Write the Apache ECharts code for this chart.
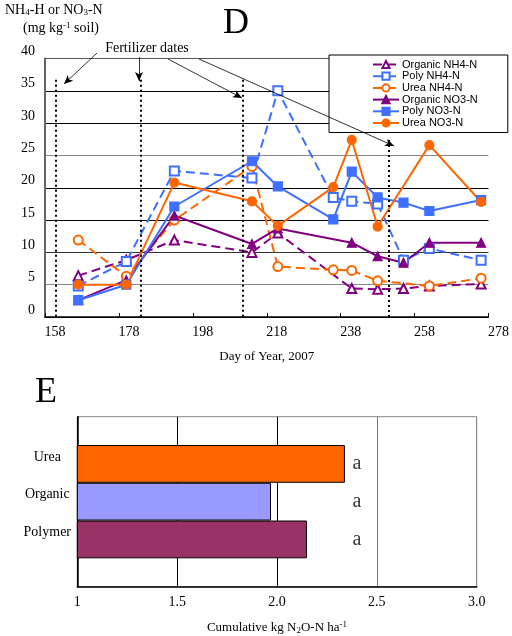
<!DOCTYPE html>
<html><head><meta charset="utf-8">
<script src="https://cdn.jsdelivr.net/npm/echarts@6/dist/echarts.min.js"></script>
<style>html,body{margin:0;padding:0;background:#fff}#c{width:512px;height:636px}</style>
</head><body><div id="c"></div>
<script>
// ---- Panel D data ----
const days        = [167, 180, 193, 214, 221, 236, 241, 248, 255, 262, 276];
const organicNH4  = [6.4, 8.8, 11.9, 10.0, 13.0, null, 4.4, 4.3, 4.4, 4.8, 5.1];
const polyNH4     = [4.8, 8.6, 22.6, 21.5, 35.0, 18.5, 17.9, 17.5, 8.8, 10.6, 8.8];
const ureaNH4     = [11.9, 6.3, 15.0, 23.3, 7.8, 7.3, 7.2, 5.6, null, 4.8, 6.0];
const organicNO3  = [2.6, 5.7, 15.7, 11.3, 13.7, null, 11.5, 9.4, 8.4, 11.5, 11.5];
const polyNO3     = [2.6, 5.0, 17.1, 24.1, 20.2, 15.1, 22.5, 18.5, 17.7, 16.4, 18.1];
const ureaNO3     = [5.0, 5.0, 20.8, 17.9, 14.1, 20.1, 27.4, 14.0, null, 26.6, 17.8];
const seriesNames = ['Organic NH4-N', 'Poly NH4-N', 'Urea NH4-N', 'Organic NO3-N', 'Poly NO3-N', 'Urea NO3-N'];
const fertDates   = [161, 184, 211.5, 251];
const fertTops    = [36.7, 36.7, 36.7, 27.4];
const dayTicks    = [158, 178, 198, 218, 238, 258, 278];
const concTicks   = [0, 5, 10, 15, 20, 25, 30, 35, 40];

// ---- Panel E data ----
const treatments  = ['Polymer', 'Organic', 'Urea'];
const cumN2O      = [2.15, 1.97, 2.34];
const letters     = ['a', 'a', 'a'];
const letterPos   = 2.4;
const n2oTicks    = [1, 1.5, 2.0, 2.5, 3.0];

const SERIF = '"Liberation Serif", "Times New Roman", serif';
const SANS = '"Liberation Sans", Arial, sans-serif';
const PURPLE = '#800080', BLUE = '#3F6FFF', ORANGE = '#FF6600';

function pairs(vals) { return days.map((d, i) => [d, vals[i]]); }

const styles = [
  {c: PURPLE, dash: true,  sym: 'emptyTriangle'},
  {c: BLUE,   dash: true,  sym: 'emptyRect'},
  {c: ORANGE, dash: true,  sym: 'emptyCircle'},
  {c: PURPLE, dash: false, sym: 'triangle'},
  {c: BLUE,   dash: false, sym: 'rect'},
  {c: ORANGE, dash: false, sym: 'circle'}
];
const allVals = [organicNH4, polyNH4, ureaNH4, organicNO3, polyNO3, ureaNO3];

const lineSeries = allVals.map((v, i) => ({
  name: seriesNames[i], type: 'line', xAxisIndex: 0, yAxisIndex: 0,
  data: pairs(v), connectNulls: true, symbol: styles[i].sym, symbolSize: 9,
  showAllSymbol: true,
  lineStyle: {color: styles[i].c, width: 2, type: styles[i].dash ? [9, 5] : 'solid'},
  itemStyle: {color: styles[i].c, borderColor: styles[i].c, borderWidth: 1.2},
  emphasis: {disabled: true}, z: 3
}));

// fertilizer dates (dotted verticals) + arrows
lineSeries.push({
  type: 'line', xAxisIndex: 0, yAxisIndex: 0, data: [], silent: true,
  markLine: {
    silent: true, symbol: ['none', 'none'], animation: false,
    lineStyle: {color: '#000', width: 2, type: [2, 3]},
    label: {show: false},
    data: fertDates.map((d, i) => [{coord: [d, fertTops[i]]}, {coord: [d, 0]}])
  }
});
lineSeries.push({
  type: 'line', xAxisIndex: 0, yAxisIndex: 0, data: [], silent: true, z: 1,
  markLine: {
    silent: true, symbol: ['none', 'arrow'], symbolSize: [6, 9], animation: false,
    lineStyle: {color: '#000', width: 0.8, type: 'solid'},
    label: {show: false},
    data: [
      [{x: 97, y: 53}, {x: 64, y: 84}],
      [{x: 139, y: 57}, {x: 139, y: 81}],
      [{x: 168, y: 59}, {x: 242, y: 98}],
      [{x: 199, y: 59}, {x: 394, y: 146}]
    ]
  }
});

const option = {
  animation: false,
  backgroundColor: '#fff',
  textStyle: {fontFamily: SERIF},
  grid: [
    {left: 45, right: 7, top: 58.5, bottom: 319},
    {left: 77.3, right: 35.3, top: 416.7, bottom: 49.3, show: true, borderColor: '#888', borderWidth: 1},
    {left: 77.3, right: 35.3, top: 445, height: 113.3}
  ],
  legend: {
    data: seriesNames, left: 329, top: 55, orient: 'vertical',
    itemWidth: 26, itemHeight: 9, itemGap: 0.7,
    padding: [4, 30, 4, 43], borderColor: '#000', borderWidth: 1, backgroundColor: '#fff',
    textStyle: {fontFamily: SANS, fontSize: 11, lineHeight: 11, color: '#000', padding: [0, 0, 0, -2]}, z: 5
  },
  xAxis: [
    {gridIndex: 0, type: 'value', min: dayTicks[0], max: dayTicks[dayTicks.length - 1], interval: dayTicks[1] - dayTicks[0],
      axisLine: {lineStyle: {color: '#000', width: 1.5}}, axisTick: {inside: true, length: 4, lineStyle: {color: '#000'}},
      axisLabel: {fontFamily: SERIF, fontSize: 14, color: '#000', margin: 8, padding: [0, 0, 0, 20]},
      splitLine: {show: false},
      name: 'Day of Year, 2007', nameLocation: 'middle', nameGap: 33,
      nameTextStyle: {fontFamily: SERIF, fontSize: 13, color: '#000'}},
    {gridIndex: 1, type: 'value', min: n2oTicks[0], max: n2oTicks[n2oTicks.length - 1], interval: n2oTicks[1] - n2oTicks[0],
      axisLine: {lineStyle: {color: '#000', width: 1.5}}, axisTick: {show: false},
      axisLabel: {fontFamily: SERIF, fontSize: 14, color: '#000', margin: 9,
        formatter: v => v === 1 ? '1' : v.toFixed(1)},
      splitLine: {show: true, lineStyle: {color: ['#000', '#000', '#000', '#777', '#888'], width: 1}},
      name: '{n|Cumulative kg N}{s|2}{n|O-N ha}{p|-1}', nameLocation: 'middle', nameGap: 33,
      nameTextStyle: {rich: {
        n: {fontFamily: SERIF, fontSize: 13, color: '#000'},
        s: {fontFamily: SERIF, fontSize: 9, color: '#000', verticalAlign: 'bottom', padding: [6, 0, 0, 0]},
        p: {fontFamily: SERIF, fontSize: 9, color: '#000', verticalAlign: 'top', padding: [0, 0, 6, 0]}
      }}},
    {gridIndex: 2, type: 'value', min: n2oTicks[0], max: n2oTicks[n2oTicks.length - 1], show: false}
  ],
  yAxis: [
    {gridIndex: 0, type: 'value', min: concTicks[0], max: concTicks[concTicks.length - 1], interval: concTicks[1] - concTicks[0],
      axisLine: {show: true, lineStyle: {color: '#666', width: 2}}, axisTick: {show: false},
      axisLabel: {fontFamily: SERIF, fontSize: 14, color: '#000', margin: 10, verticalAlign: 'bottom'},
      splitLine: {show: true, lineStyle: {width: 1, color: ['#000', '#888', '#333', '#000', '#000', '#888', '#000', '#000', '#555']}}},
    {gridIndex: 1, type: 'value', min: 0, max: 1,
      axisLine: {show: true, lineStyle: {color: '#000', width: 1.5}}, axisTick: {show: false},
      axisLabel: {show: false}, splitLine: {show: false}},
    {gridIndex: 2, type: 'category', data: treatments,
      axisLine: {show: false}, axisTick: {show: false},
      axisLabel: {fontFamily: SERIF, fontSize: 14, color: '#000', align: 'center', margin: 30, verticalAlign: 'bottom'}}
  ],
  graphic: [
    {type: 'text', left: 5, top: 3, style: {
      text: '{n|NH}{s|4}{n|-H or NO}{s|3}{n|-N}', rich: {
        n: {fontFamily: SERIF, fontSize: 14, fill: '#000'},
        s: {fontFamily: SERIF, fontSize: 9, fill: '#000', verticalAlign: 'bottom', padding: [6, 0, 0, 0]}
      }}},
    {type: 'text', left: 23, top: 21, style: {
      text: '{n|(mg kg}{p|-1}{n| soil)}', rich: {
        n: {fontFamily: SERIF, fontSize: 14, fill: '#000'},
        p: {fontFamily: SERIF, fontSize: 9, fill: '#000', verticalAlign: 'top', padding: [0, 0, 6, 0]}
      }}},
    {type: 'text', x: 236, y: 24, style: {text: 'D', font: '36px ' + SERIF, fill: '#000', align: 'center', verticalAlign: 'middle'}},
    {type: 'text', x: 147, y: 48, style: {text: 'Fertilizer dates', font: '14px ' + SERIF, fill: '#000', align: 'center', verticalAlign: 'middle'}},
    {type: 'text', x: 46, y: 393, style: {text: 'E', font: '36px ' + SERIF, fill: '#000', align: 'center', verticalAlign: 'middle'}}
  ],
  series: lineSeries.concat([
    {type: 'bar', xAxisIndex: 2, yAxisIndex: 2, barCategoryGap: '0%',
      data: cumN2O.map((v, i) => ({value: v, itemStyle: {color: ['#993366', '#9999FF', '#FF6600'][i]}})),
      itemStyle: {borderColor: '#000', borderWidth: 1}, silent: true},
    {type: 'scatter', xAxisIndex: 2, yAxisIndex: 2, symbolSize: 0, silent: true,
      data: treatments.map((t, i) => [letterPos, t]),
      label: {show: true, position: 'inside', formatter: p => letters[p.dataIndex],
        fontFamily: SERIF, fontSize: 20, color: '#000'}}
  ])
};
echarts.init(document.getElementById('c'), null, {renderer: 'canvas'}).setOption(option);
</script></body></html>
